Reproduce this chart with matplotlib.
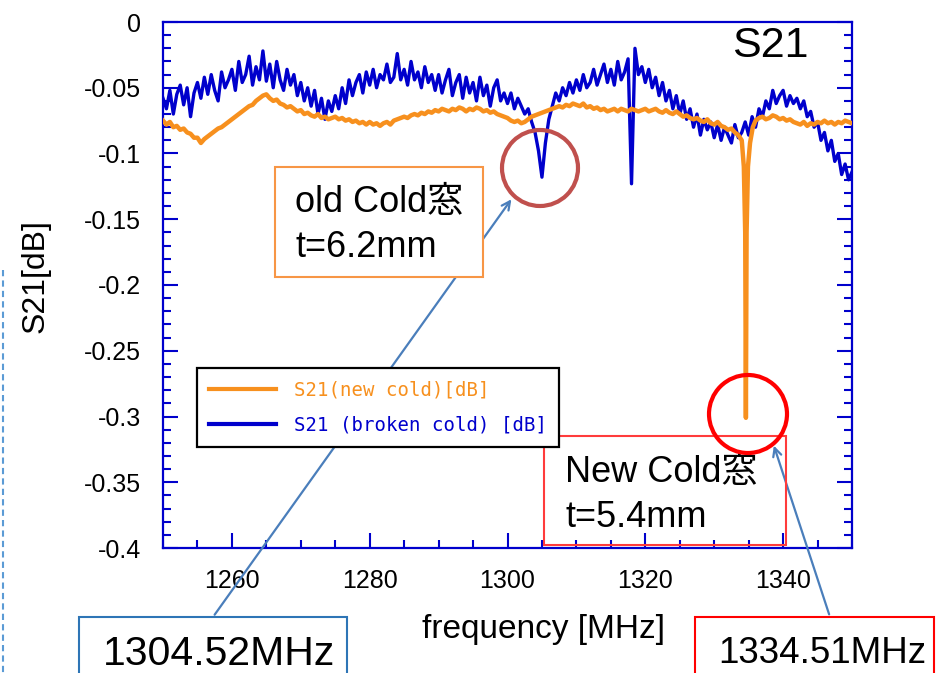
import numpy as np
import matplotlib
matplotlib.use('Agg')
import matplotlib.pyplot as plt
from matplotlib.patches import Rectangle, Ellipse, FancyArrowPatch
from matplotlib.lines import Line2D
from matplotlib.ticker import MultipleLocator, FuncFormatter
from matplotlib.font_manager import FontProperties

plt.rcParams['font.family'] = ['Liberation Sans', 'Noto Sans CJK JP']
plt.rcParams['axes.unicode_minus'] = False

W, H = 947, 673

# S21 of the broken cold window, 0.5 MHz steps from 1250 to 1350 MHz
broken_freq = np.arange(1250, 1350.01, 0.5)
broken_s21 = [
    -0.058, -0.066, -0.052, -0.070, -0.055, -0.048, -0.063, -0.050, -0.072, -0.054,
    -0.046, -0.058, -0.042, -0.055, -0.040, -0.052, -0.060, -0.038, -0.050, -0.044,
    -0.036, -0.052, -0.030, -0.046, -0.040, -0.026, -0.048, -0.034, -0.044, -0.022,
    -0.045, -0.032, -0.050, -0.030, -0.044, -0.052, -0.036, -0.048, -0.040, -0.056,
    -0.046, -0.060, -0.050, -0.064, -0.052, -0.070, -0.058, -0.074, -0.060, -0.068,
    -0.056, -0.066, -0.050, -0.062, -0.044, -0.056, -0.046, -0.040, -0.054, -0.038,
    -0.048, -0.036, -0.050, -0.040, -0.044, -0.032, -0.046, -0.042, -0.024, -0.044,
    -0.036, -0.048, -0.030, -0.044, -0.038, -0.050, -0.034, -0.046, -0.040, -0.052,
    -0.040, -0.054, -0.044, -0.036, -0.056, -0.046, -0.040, -0.058, -0.042, -0.054,
    -0.046, -0.060, -0.042, -0.056, -0.048, -0.064, -0.050, -0.044, -0.060, -0.054,
    -0.062, -0.054, -0.066, -0.058, -0.064, -0.070, -0.066, -0.076, -0.084, -0.098,
    -0.118, -0.092, -0.074, -0.064, -0.054, -0.060, -0.050, -0.056, -0.046, -0.054,
    -0.044, -0.052, -0.040, -0.050, -0.046, -0.036, -0.048, -0.040, -0.032, -0.046,
    -0.036, -0.048, -0.030, -0.044, -0.038, -0.028, -0.123, -0.020, -0.040, -0.034,
    -0.046, -0.036, -0.050, -0.042, -0.056, -0.046, -0.060, -0.052, -0.066, -0.056,
    -0.070, -0.060, -0.074, -0.066, -0.080, -0.070, -0.086, -0.074, -0.082, -0.076,
    -0.088, -0.078, -0.090, -0.080, -0.086, -0.092, -0.078, -0.088, -0.084, -0.076,
    -0.086, -0.072, -0.080, -0.066, -0.072, -0.060, -0.066, -0.052, -0.062, -0.056,
    -0.052, -0.064, -0.056, -0.062, -0.058, -0.066, -0.060, -0.072, -0.068, -0.080,
    -0.076, -0.090, -0.084, -0.098, -0.090, -0.106, -0.100, -0.116, -0.108, -0.120,
    -0.114,
]

# S21 of the new cold window: 0.5 MHz steps, finer points around the dip
new_freq_low = np.arange(1250, 1333.51, 0.5)
new_s21_low = [
    -0.075, -0.078, -0.076, -0.080, -0.079, -0.082, -0.081, -0.084, -0.085, -0.088,
    -0.088, -0.092, -0.089, -0.087, -0.085, -0.083, -0.081, -0.080, -0.078, -0.076,
    -0.074, -0.072, -0.070, -0.068, -0.066, -0.064, -0.063, -0.060, -0.058, -0.056,
    -0.055, -0.058, -0.060, -0.059, -0.062, -0.063, -0.065, -0.064, -0.066, -0.068,
    -0.067, -0.070, -0.069, -0.071, -0.072, -0.070, -0.073, -0.072, -0.074, -0.073,
    -0.072, -0.074, -0.073, -0.075, -0.074, -0.076, -0.075, -0.077, -0.076, -0.078,
    -0.076, -0.078, -0.077, -0.079, -0.077, -0.076, -0.078, -0.075, -0.074, -0.073,
    -0.072, -0.073, -0.071, -0.070, -0.071, -0.069, -0.070, -0.068, -0.069, -0.067,
    -0.068, -0.066, -0.067, -0.068, -0.066, -0.067, -0.065, -0.066, -0.068, -0.066,
    -0.067, -0.065, -0.066, -0.068, -0.067, -0.069, -0.068, -0.070, -0.071, -0.072,
    -0.073, -0.075, -0.076, -0.075, -0.077, -0.076, -0.074, -0.072, -0.071, -0.070,
    -0.069, -0.068, -0.067, -0.066, -0.065, -0.064, -0.065, -0.063, -0.064, -0.062,
    -0.063, -0.064, -0.062, -0.065, -0.064, -0.066, -0.065, -0.067, -0.066, -0.068,
    -0.067, -0.066, -0.068, -0.066, -0.067, -0.068, -0.066, -0.067, -0.068, -0.067,
    -0.066, -0.068, -0.067, -0.066, -0.068, -0.069, -0.067, -0.069, -0.070, -0.068,
    -0.070, -0.072, -0.071, -0.073, -0.074, -0.073, -0.075, -0.076, -0.074, -0.077,
    -0.078, -0.076, -0.079, -0.080, -0.082, -0.081, -0.084, -0.086,
]
dip_freq = [1334.0, 1334.3, 1334.5, 1334.6, 1334.7, 1334.9, 1335.2, 1335.6, 1336.0]
dip_s21 = [-0.090, -0.110, -0.160, -0.301, -0.160, -0.110, -0.092, -0.080, -0.075]
new_freq_high = np.arange(1336.5, 1350.01, 0.5)
new_s21_high = [
    -0.073, -0.072, -0.074, -0.073, -0.071, -0.072,
    -0.074, -0.073, -0.075, -0.074, -0.076, -0.077, -0.078, -0.076, -0.079, -0.077,
    -0.078, -0.076, -0.077, -0.075, -0.077, -0.076, -0.078, -0.076, -0.077, -0.075,
    -0.076, -0.077,
]
new_freq = np.concatenate([new_freq_low, dip_freq, new_freq_high])
new_s21 = np.concatenate([new_s21_low, dip_s21, new_s21_high])

ORANGE = '#F7901E'
BLUE = '#0000CC'


def fx(x):
    return x / W


def fy(y):
    return 1 - y / H


fig = plt.figure(figsize=(W / 100, H / 100), dpi=100)
ax = fig.add_axes([fx(163), fy(548), (852 - 163) / W, (548 - 22) / H])
ax.patch.set_alpha(0)

ax.plot(broken_freq, broken_s21, color=BLUE, lw=2.4, zorder=2)
ax.plot(new_freq, new_s21, color=ORANGE, lw=3.2, zorder=3)

ax.set_xlim(1250, 1350)
ax.set_ylim(-0.4, 0)
ax.xaxis.set_major_locator(MultipleLocator(20))
ax.xaxis.set_minor_locator(MultipleLocator(5))
ax.yaxis.set_major_locator(MultipleLocator(0.05))
ax.yaxis.set_minor_locator(MultipleLocator(0.01))
ax.yaxis.set_major_formatter(FuncFormatter(lambda v, p: '%g' % round(v, 3)))
ax.tick_params(which='both', direction='in', color=BLUE, width=1.5,
               right=True, top=False, labelsize=18, labelcolor='black')
ax.tick_params(which='major', length=11)
ax.tick_params(which='minor', length=6)
ax.tick_params(axis='y', pad=16)
ax.tick_params(axis='x', pad=15)
for s in ax.spines.values():
    s.set_color(BLUE)
    s.set_linewidth(1.6)

fig.text(fx(36), fy(276), 'S21[dB]', rotation=90, ha='center', va='center', fontsize=23)
fig.text(fx(543), fy(638), 'frequency [MHz]', ha='center', va='baseline', fontsize=24)
fig.text(fx(732), fy(57), 'S21', ha='left', va='baseline', fontsize=31)

# circles around the dips
fig.add_artist(Ellipse((fx(540), fy(168)), 76 / W, 76 / H, fill=False,
                       edgecolor='#C0504D', lw=3, zorder=4))
fig.add_artist(Ellipse((fx(748), fy(414)), 78 / W, 78 / H, fill=False,
                       edgecolor='#FF0000', lw=3, zorder=4))

# arrows from the frequency boxes
ARROW = '#4A7EBB'
fig.add_artist(FancyArrowPatch((fx(213), fy(617)), (fx(513), fy(197)),
                               transform=fig.transFigure, arrowstyle='->,head_length=6,head_width=3',
                               color=ARROW, lw=1.6, zorder=2))
fig.add_artist(FancyArrowPatch((fx(830), fy(617)), (fx(773), fy(443)),
                               transform=fig.transFigure, arrowstyle='->,head_length=6,head_width=3',
                               color=ARROW, lw=1.6, zorder=2))

# annotation boxes
fig.add_artist(Rectangle((fx(275), fy(277)), (483 - 275) / W, (277 - 167) / H,
                         facecolor='white', edgecolor='#F79646', lw=1.5, zorder=3))
fig.text(fx(295), fy(212), 'old Cold窓', fontsize=26, va='baseline', zorder=3.5)
fig.text(fx(295), fy(257), 't=6.2mm', fontsize=26, va='baseline', zorder=3.5)

fig.add_artist(Rectangle((fx(544), fy(545)), (786 - 544) / W, (545 - 436) / H,
                         fill=False, edgecolor='#FF3B3B', lw=1.5, zorder=3))
fig.text(fx(565), fy(482), 'New Cold窓', fontsize=26, va='baseline', zorder=3.5)
fig.text(fx(565), fy(527), 't=5.4mm', fontsize=26, va='baseline', zorder=3.5)

fig.add_artist(Rectangle((fx(79), fy(690)), (347 - 79) / W, (690 - 617) / H,
                         facecolor='white', edgecolor='#2E75B6', lw=1.5, zorder=3))
fig.text(fx(103), fy(665), '1304.52MHz', fontsize=29.5, va='baseline', zorder=3.5)

fig.add_artist(Rectangle((fx(695), fy(690)), (934 - 695) / W, (690 - 617) / H,
                         facecolor='white', edgecolor='#FF0000', lw=1.5, zorder=3))
fig.text(fx(718), fy(663), '1334.51MHz', fontsize=26.5, va='baseline', zorder=3.5)

# dashed guide at the left edge
fig.add_artist(Line2D([fx(3), fx(3)], [fy(270), fy(673)], color='#5B9BD5',
                      lw=1.5, ls=(0, (3, 2)), zorder=2))

handles = [Line2D([], [], color=ORANGE, lw=3), Line2D([], [], color=BLUE, lw=3)]
leg = fig.legend(handles, ['S21(new cold)[dB]', 'S21 (broken cold) [dB]'],
                 loc='upper left', bbox_to_anchor=(fx(197), fy(368)),
                 prop=FontProperties(family='DejaVu Sans Mono', size=13.7),
                 frameon=True, fancybox=False, edgecolor='black', framealpha=1,
                 borderaxespad=0, borderpad=0.65, handlelength=3.5,
                 handletextpad=0.95, labelspacing=0.85, labelcolor='linecolor')
leg.get_frame().set_linewidth(1.6)
leg.set_zorder(6)

fig.savefig('out.png', dpi=100)
